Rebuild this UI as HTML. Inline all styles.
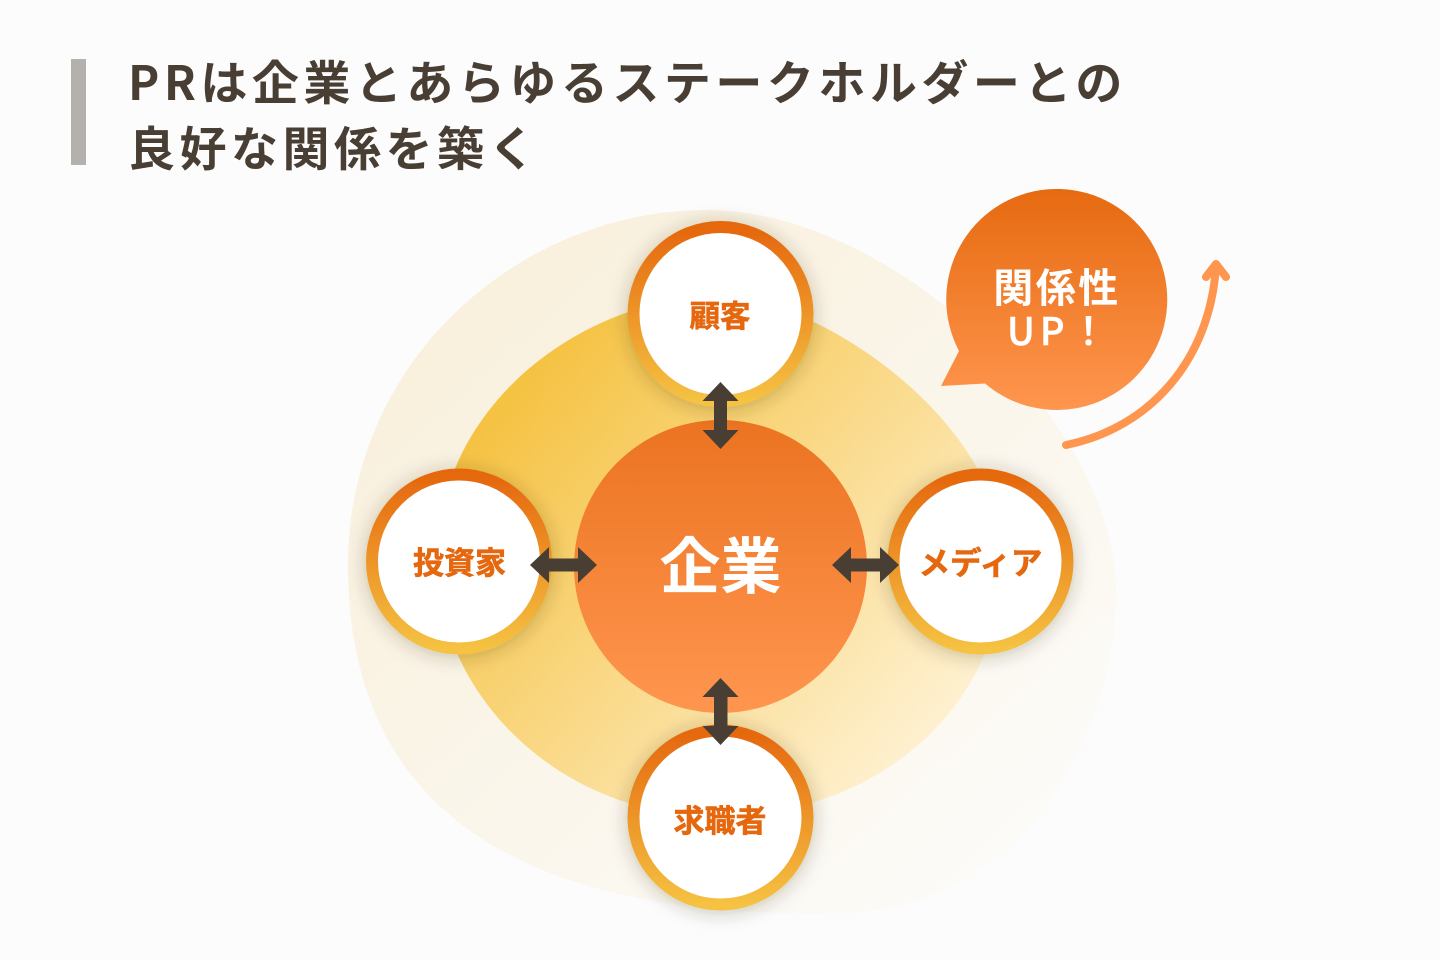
<!DOCTYPE html>
<html lang="ja"><head><meta charset="utf-8"><style>
html,body{margin:0;padding:0;width:1440px;height:960px;background:#fcfcfc;overflow:hidden}
svg{display:block}
text{font-family:"Noto Sans CJK JP","Liberation Sans",sans-serif}
</style></head><body>
<svg width="1440" height="960" viewBox="0 0 1440 960" xmlns="http://www.w3.org/2000/svg">
<defs>
<linearGradient id="o" gradientUnits="userSpaceOnUse" x1="480" y1="260" x2="1020" y2="860"><stop offset="0" stop-color="#f9f0dc"/><stop offset="1" stop-color="#fcfbf8"/></linearGradient>
<linearGradient id="m" gradientUnits="userSpaceOnUse" x1="520" y1="380" x2="960" y2="760"><stop offset="0" stop-color="#f5c242"/><stop offset="1" stop-color="#fff4da"/></linearGradient>
<linearGradient id="c" x1="0" y1="0" x2="0" y2="1"><stop offset="0" stop-color="#eb7321"/><stop offset="1" stop-color="#ff964f"/></linearGradient>
<linearGradient id="r" x1="0" y1="0" x2="0" y2="1"><stop offset="0" stop-color="#e5670e"/><stop offset="1" stop-color="#f5c242"/></linearGradient>
<linearGradient id="b" gradientUnits="userSpaceOnUse" x1="0" y1="189" x2="0" y2="410"><stop offset="0" stop-color="#e66a10"/><stop offset="1" stop-color="#ff964f"/></linearGradient>
<filter id="s" x="-30%" y="-30%" width="160%" height="160%"><feDropShadow dx="0" dy="2" stdDeviation="9" flood-color="#3a3020" flood-opacity="0.28"/></filter>
</defs>
<rect width="1440" height="960" fill="#fcfcfc"/>
<rect x="71" y="59" width="15" height="106" fill="#b4b0ac"/>
<text x="128" y="100" font-size="47" font-weight="700" fill="#483e34" letter-spacing="4.500">PRは企業とあらゆるステークホルダーとの</text>
<text x="128" y="166" font-size="47" font-weight="700" fill="#483e34" letter-spacing="4.500">良好な関係を築く</text>

<path d="M707 210C895 210 1116 425 1116 590C1116 760 1000 913 840 913C520 920 348 810 348 565C348 360 520 210 707 210Z" fill="url(#o)"/>
<path d="M720 296C815 296 1003 420 1003 560C1003 720 860 815 730 815C570 825 437 700 437 560C437 400 590 296 720 296Z" fill="url(#m)"/>

<circle cx="720.500" cy="566.500" r="146.500" fill="url(#c)"/>
<text x="720.500" y="588" font-size="61" font-weight="700" fill="#fff" text-anchor="middle">企業</text>

<g filter="url(#s)"><circle cx="720.500" cy="314" r="87" fill="#fff" stroke="url(#r)" stroke-width="12"/></g>
<g filter="url(#s)"><circle cx="459" cy="561.500" r="87" fill="#fff" stroke="url(#r)" stroke-width="12"/></g>
<g filter="url(#s)"><circle cx="980.500" cy="561.500" r="87" fill="#fff" stroke="url(#r)" stroke-width="12"/></g>
<g filter="url(#s)"><circle cx="720.500" cy="817.500" r="87" fill="#fff" stroke="url(#r)" stroke-width="12"/></g>
<g fill="#e5670e" stroke="#e5670e" stroke-width="0.600" font-weight="700" text-anchor="middle">
<text x="720" y="327" font-size="30.500">顧客</text>
<text x="459.500" y="574" font-size="31">投資家</text>
<text x="980.500" y="574" font-size="31.500">メディア</text>
<text x="720" y="832" font-size="31">求職者</text>
</g>

<g fill="#483e34">
<path d="M720.500 382L738.500 401H727V430H738.500L720.500 449L702.500 430H714V401H702.500Z"/>
<path d="M720.500 678L738.500 697H727.500V726H738.500L720.500 745L702.500 726H714V697H702.500Z"/>
<path d="M530 565L549 547V558.500H578V547L597 565L578 583V571.500H549V583Z"/>
<path d="M832 565L851 547V558.500H880V547L899 565L880 583V571.500H851V583Z"/>
</g>

<path d="M941 386L959 351A110.500 110.500 0 1 1 985 383.500Z" fill="url(#b)"/>
<text x="1057" y="302" font-size="40" font-weight="700" fill="#fff" text-anchor="middle" letter-spacing="2.500">関係性</text>
<text x="1007" y="345" font-size="38" font-weight="500" fill="#fff" stroke="#fff" stroke-width="0.500" letter-spacing="5">UP！</text>

<path d="M1066 445C1150 428 1210 360 1216 266" fill="none" stroke="#ff964f" stroke-width="8" stroke-linecap="round"/>
<path d="M1206 277L1216 264L1226 277" fill="none" stroke="#ff964f" stroke-width="8" stroke-linecap="round" stroke-linejoin="round"/>
</svg>
</body></html>
